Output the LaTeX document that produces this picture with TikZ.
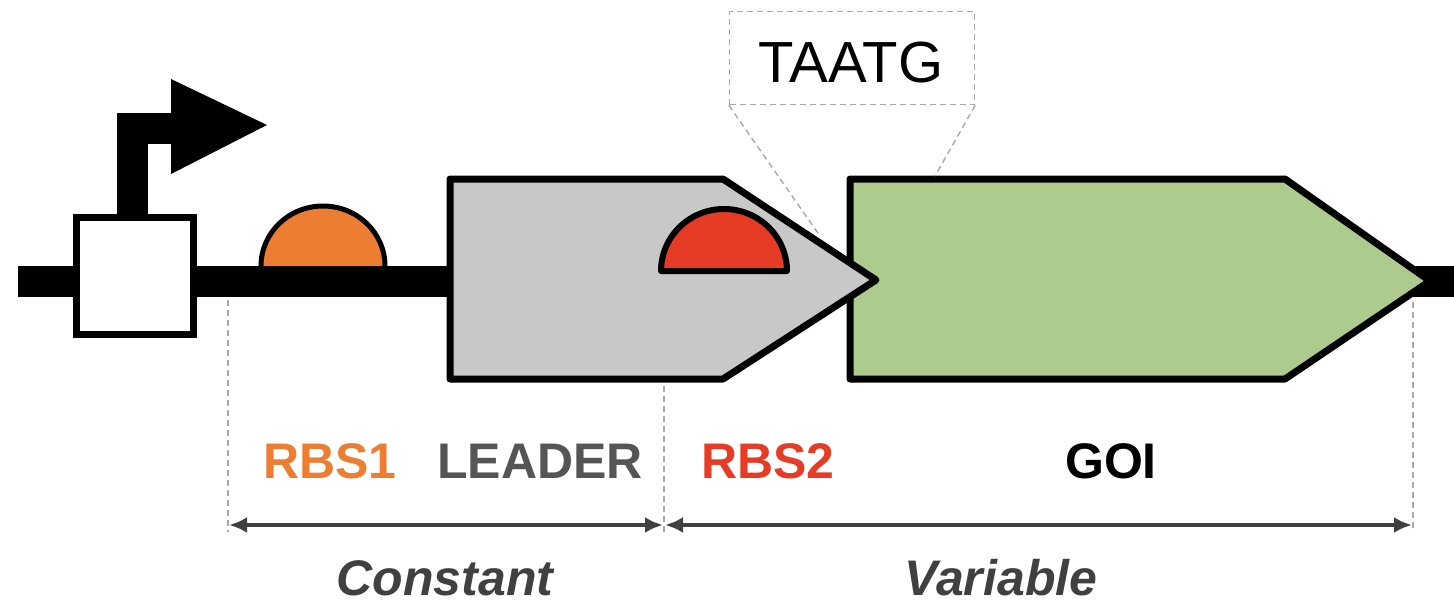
\documentclass[tikz,border=0pt]{standalone}
\usepackage{fontspec}
\setmainfont{Liberation Sans}
\usetikzlibrary{arrows.meta}

\definecolor{rbsone}{HTML}{ED7D31}
\definecolor{rbstwo}{HTML}{E63B25}
\definecolor{leaderfill}{HTML}{C8C8C8}
\definecolor{goifill}{HTML}{ADCB8C}
\definecolor{leadertext}{HTML}{555555}
\definecolor{spantext}{HTML}{404040}
\definecolor{guide}{HTML}{A8A8A8}

\tikzset{
  part/.style={draw=black, line width=7pt, line join=round},
  guideline/.style={draw=guide, line width=1.4pt, dash pattern=on 6pt off 4pt},
  span/.style={draw=spantext, line width=4pt, {Latex[length=18pt,width=16pt]}-{Latex[length=18pt,width=16pt]}, shorten >=1pt, shorten <=1pt},
  lbl/.style={anchor=base, font=\fontsize{50}{60}\selectfont\bfseries},
  spanlbl/.style={anchor=base, font=\fontsize{50}{60}\selectfont\bfseries\itshape, text=spantext}
}

\begin{document}
\begin{tikzpicture}[x=1pt, y=-1pt]
\useasboundingbox (0,0) rectangle (1454,603);

% DNA backbone
\fill[black] (18,266) rectangle (1454,297);

% promoter: box with bent arrow
\draw[line width=31pt, line join=miter] (132,216) -- (132,128) -- (175,128);
\fill[black] (171,79) -- (267,125) -- (171,174) -- cycle;
\draw[part, fill=white, line join=miter] (76,217) rectangle (193,334);

% RBS1 on the backbone (y axis points down, so the upper half is 180..360)
\draw[part, line width=5pt, fill=rbsone] (261,266) arc[start angle=180, end angle=360, x radius=62, y radius=60];

% gene of interest (drawn under the leader tip)
\draw[part, fill=goifill] (850,179) -- (1285,179) -- (1430,281) -- (1285,379) -- (850,379) -- cycle;

% leader peptide
\draw[part, fill=leaderfill] (450,179) -- (723,179) -- (876,280) -- (723,379) -- (450,379) -- cycle;

% RBS2 inside the leader
\draw[part, line width=6pt, fill=rbstwo] (661,271) arc[start angle=180, end angle=360, x radius=63, y radius=62] -- cycle;

% sequence callout
\node[draw=guide, line width=1.4pt, dash pattern=on 6pt off 4pt, minimum width=245pt, minimum height=93pt, inner sep=0pt] (seq) at (852,58) {};
\node[anchor=base, font=\fontsize{58}{68}\selectfont] (seqtxt) at (851,82) {TAATG};
\coordinate (junctionL) at (820,236);
\coordinate (junctionR) at (935,176);
\draw[guideline] (seq.south west) -- (junctionL);
\draw[guideline] (seq.south east) -- (junctionR);

% guide lines for the spans
\coordinate (c0) at (228,525);
\coordinate (c1) at (664,525);
\coordinate (c2) at (1413,525);
\draw[guideline] (228,300) -- (228,532);
\draw[guideline] (664,386) -- (664,532);
\draw[guideline] (1413,302) -- (1413,532);

% part labels
\node[lbl, text=rbsone] (l1) at (330,478) {RBS1};
\node[lbl, text=leadertext] (l2) at (540,478) {LEADER};
\node[lbl, text=rbstwo] (l3) at (768,478) {RBS2};
\node[lbl, text=black] (l4) at (1111,478) {GOI};

% spans
\draw[span] (c0) -- (c1);
\draw[span] (c1) -- (c2);
\node[spanlbl] (constant) at (445,595) {Constant};
\node[spanlbl] (variable) at (1001,595) {Variable};
\end{tikzpicture}
\end{document}
